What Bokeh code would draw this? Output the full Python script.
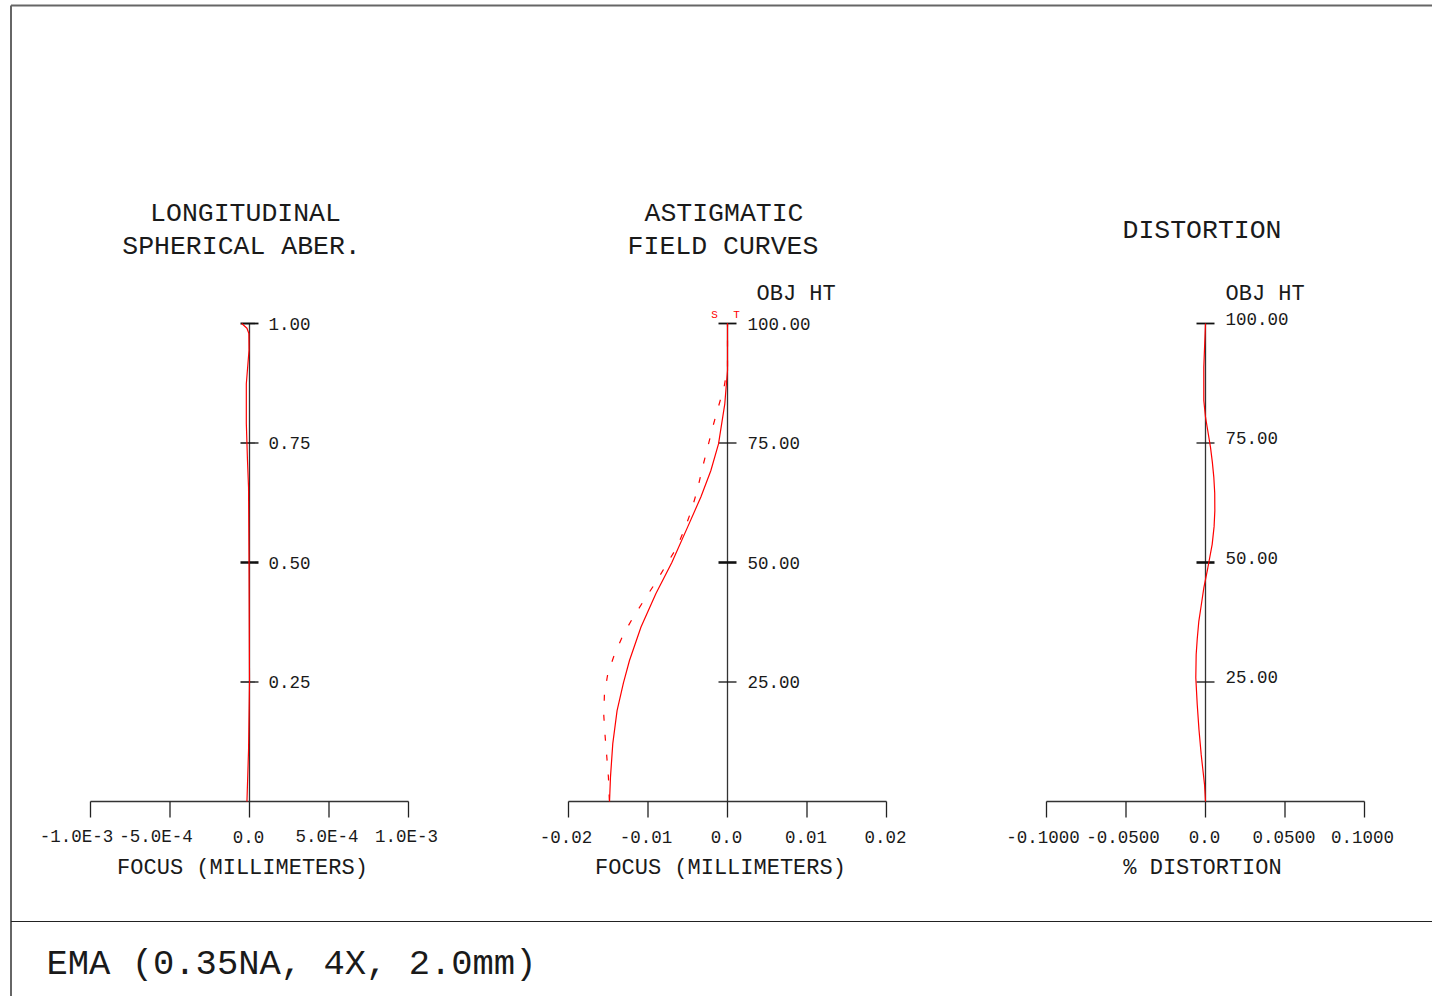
from bokeh.plotting import figure
from bokeh.models import Range1d
from bokeh.core.properties import value
from bokeh.embed import file_html
from bokeh.resources import INLINE

# ---------------- data ----------------
# Longitudinal spherical aberration (relative pupil height vs focus, mm)
lsa_height = [0.0, 0.107, 0.25, 0.5, 0.657, 0.713, 0.791, 0.874, 0.944, 0.979, 0.99, 1.0]
lsa_focus = [-1.6e-5, -0.6e-5, 0.0, -0.3e-5, -0.6e-5, -1.26e-5, -2.0e-5, -2.0e-5,
             -0.3e-5, -0.4e-5, -1.6e-5, -4.9e-5]

# Astigmatic field curves (object height vs focus, mm)
ast_height_t = [0.0, 5.1, 12.1, 19.0, 24.8, 29.5, 36.5, 43.5, 50.0, 57.4, 63.7, 69.2,
                74.8, 83.2, 90.2, 100.0]
ast_focus_t = [-0.01484, -0.01472, -0.01443, -0.01389, -0.01309, -0.01233, -0.01088,
               -0.0090, -0.0070, -0.00502, -0.00335, -0.0021, -0.00113, -0.00034,
               0.0, 0.0]
ast_height_s = [0.2, 5.1, 9.3, 13.8, 18.0, 22.5, 26.7, 30.7, 34.7, 38.4, 42.2, 45.7,
                49.7, 53.2, 57.3, 61.2, 65.4, 69.9, 74.0, 78.2, 82.4, 86.7, 90.9, 100.0]
ast_focus_s = [-0.01486, -0.01498, -0.01518, -0.0154, -0.01556, -0.01548, -0.01506,
               -0.01423, -0.01317, -0.01192, -0.01046, -0.00908, -0.00763, -0.00636,
               -0.00532, -0.00448, -0.00376, -0.00314, -0.00251, -0.00188, -0.00118,
               -0.00043, 0.0, 0.0]

# Distortion (object height vs % distortion)
dist_height = [0.0, 3.5, 9.8, 15.0, 20.3, 25.9, 30.7, 34.0, 37.7, 41.0, 44.7, 48.9,
               53.8, 57.5, 60.8, 64.5, 67.8, 71.0, 74.1, 78.3, 80.4, 83.9, 90.9, 100.0]
dist_pct = [0.0, -0.0006, -0.0027, -0.0041, -0.0052, -0.0061, -0.00587, -0.0052,
            -0.0042, -0.0027, -0.00105, 0.00147, 0.0042, 0.0054, 0.00587, 0.0058,
            0.00524, 0.0043, 0.00315, 0.00107, 0.0, -0.00107, -0.00107, 0.0]

lsa_xticks = [-1.0e-3, -5.0e-4, 0.0, 5.0e-4, 1.0e-3]
lsa_xlabels = ["-1.0E-3", "-5.0E-4", "0.0", "5.0E-4", "1.0E-3"]
lsa_yticks = [0.25, 0.50, 0.75, 1.00]
lsa_ylabels = ["0.25", "0.50", "0.75", "1.00"]

ast_xticks = [-0.02, -0.01, 0.0, 0.01, 0.02]
ast_xlabels = ["-0.02", "-0.01", "0.0", "0.01", "0.02"]

dist_xticks = [-0.1, -0.05, 0.0, 0.05, 0.1]
dist_xlabels = ["-0.1000", "-0.0500", "0.0", "0.0500", "0.1000"]

field_yticks = [25.0, 50.0, 75.0, 100.0]
field_ylabels = ["25.00", "50.00", "75.00", "100.00"]

# ---------------- layout ----------------
W, H = 1432, 996
PX0, PX1 = 0, W
PY0, PY1 = 0, H
FONT = value("Liberation Mono")
INK = "#1a1a1a"

p = figure(width=W, height=H, output_backend="svg", toolbar_location=None,
           x_range=Range1d(PX0, PX1), y_range=Range1d(PY1, PY0),
           min_border=0, outline_line_color=None)
p.axis.visible = False
p.grid.visible = False
p.background_fill_color = "white"
p.border_fill_color = "white"


def lin_range(v0, p0, v1, p1, P0, P1):
    s = (v1 - v0) / (p1 - p0)
    return Range1d(start=v0 + (P0 - p0) * s, end=v0 + (P1 - p0) * s)


Y_AX = 801   # pixel row of x axes
Y_TOP = 323  # pixel row of top of y axes

p.extra_y_ranges = {
    "y1": lin_range(0.0, PY1 - Y_AX + PY0, 1.0, PY1 - Y_TOP + PY0, PY0, PY1),
    "y100": lin_range(0.0, PY1 - Y_AX + PY0, 100.0, PY1 - Y_TOP + PY0, PY0, PY1),
}

panels = [
    dict(name="x1", xt=lsa_xticks, xl=lsa_xlabels, p0=90, p1=408, yr="y1",
         yt=lsa_yticks, yl=lsa_ylabels, ymax=1.0, axpx=248, lab_dy=0,
         xoff=[-14, -14, -1, -2, -2]),
    dict(name="x2", xt=ast_xticks, xl=ast_xlabels, p0=568, p1=886, yr="y100",
         yt=field_yticks, yl=field_ylabels, ymax=100.0, axpx=727, lab_dy=0,
         xoff=[-2.5, -2, -1, -1, -1]),
    dict(name="x3", xt=dist_xticks, xl=dist_xlabels, p0=1046, p1=1364, yr="y100",
         yt=field_yticks, yl=field_ylabels, ymax=100.0, axpx=1205, lab_dy=-5,
         xoff=[-3.5, -3, -1, -1, -2]),
]

for pn in panels:
    p.extra_x_ranges[pn["name"]] = lin_range(pn["xt"][0], pn["p0"], pn["xt"][-1], pn["p1"], PX0, PX1)

for pn in panels:
    xr, yr = pn["name"], pn["yr"]
    xt = pn["xt"]
    # x axis line
    p.segment(x0=[xt[0]], y0=[0], x1=[xt[-1]], y1=[0], x_range_name=xr, y_range_name=yr,
              line_color="#333333", line_width=1.3)
    # y axis line
    p.segment(x0=[0], y0=[0], x1=[0], y1=[pn["ymax"]], x_range_name=xr, y_range_name=yr,
              line_color="#333333", line_width=1.3)
    # x ticks (downward)
    p.segment(x0=xt, y0=[Y_AX] * len(xt), x1=xt, y1=[Y_AX + 16] * len(xt),
              x_range_name=xr, line_color="#222222", line_width=1.3)
    # y ticks
    p.scatter(x=[0] * len(pn["yt"]), y=pn["yt"], marker="dash", size=18,
              line_color="#111111", line_width=[1.3, 2.6, 1.3, 1.8],
              x_range_name=xr, y_range_name=yr)
    # x tick labels
    p.text(x=xt, y=[836] * len(xt), text=pn["xl"], x_range_name=xr, x_offset=pn["xoff"],
           text_font=FONT, text_font_size="17.5px", text_color=INK,
           text_align="center", text_baseline="middle")
    # y tick labels
    p.text(x=[pn["axpx"] + 20] * len(pn["yt"]), y=pn["yt"], text=pn["yl"], y_range_name=yr,
           y_offset=pn["lab_dy"],
           text_font=FONT, text_font_size="17.5px", text_color=INK,
           text_align="left", text_baseline="middle")

# curves
p.line(x=lsa_focus, y=lsa_height, x_range_name="x1", y_range_name="y1",
       line_color="red", line_width=1.2)
p.line(x=ast_focus_t, y=ast_height_t, x_range_name="x2", y_range_name="y100",
       line_color="red", line_width=1.2)
p.line(x=ast_focus_s, y=ast_height_s, x_range_name="x2", y_range_name="y100",
       line_color="red", line_width=1.2, line_dash="6 14")
p.line(x=dist_pct, y=dist_height, x_range_name="x3", y_range_name="y100",
       line_color="red", line_width=1.2)

# titles and labels (page pixel coordinates)
titles = ["LONGITUDINAL", "SPHERICAL ABER.", "ASTIGMATIC", "FIELD CURVES", "DISTORTION"]
title_x = [245, 241, 723.5, 722.5, 1201.5]
title_y = [213, 246, 213, 246, 230]
p.text(x=title_x, y=title_y, text=titles, text_font=FONT, text_font_size="26.5px",
       text_color=INK, text_align="center", text_baseline="middle")

axis_titles = ["FOCUS (MILLIMETERS)", "FOCUS (MILLIMETERS)", "% DISTORTION"]
p.text(x=[242, 720, 1202], y=[868, 868, 868], text=axis_titles, text_font=FONT,
       text_font_size="22px", text_color=INK, text_align="center", text_baseline="middle")

p.text(x=[756, 1225], y=[294, 294], text=["OBJ HT", "OBJ HT"], text_font=FONT,
       text_font_size="22px", text_color=INK, text_align="left", text_baseline="middle")

p.text(x=[714, 736], y=[314, 314], text=["S", "T"], text_font=FONT,
       text_font_size="11px", text_color="red", text_align="center", text_baseline="middle")

p.text(x=[46], y=[964], text=["EMA (0.35NA, 4X, 2.0mm)"], text_font=FONT,
       text_font_size="35.5px", text_color=INK, text_align="left", text_baseline="middle")

# frame lines
p.segment(x0=[10.5, 10.5], y0=[5, 5], x1=[10.5, PX1], y1=[PY1, 5],
          line_color="#666666", line_width=2)
p.segment(x0=[10.5], y0=[921], x1=[PX1], y1=[921], line_color="#222222", line_width=1.2)

open("out.html", "w").write(file_html(p, INLINE))
